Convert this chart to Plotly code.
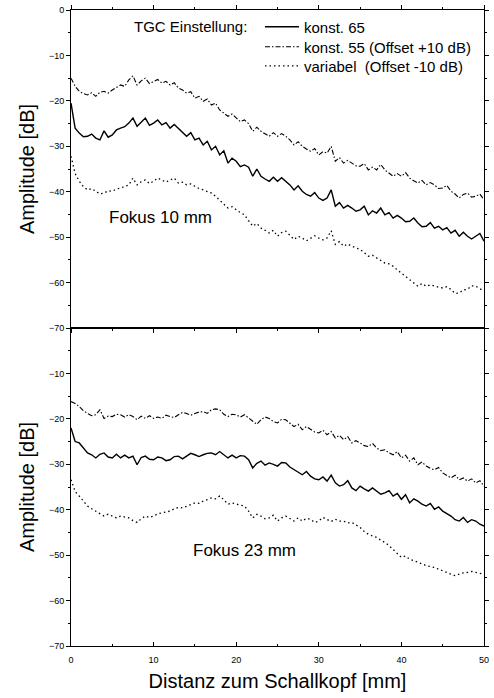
import numpy as np
import plotly.graph_objects as go
from plotly.subplots import make_subplots

# Distance axis (mm), 0.5 mm steps
distance_mm = np.arange(0, 50.01, 0.5)

# ---- Fokus 10 mm (top panel) ----
top_konst65 = [-20.5, -26.0, -27.1, -27.9, -27.8, -27.3, -28.2, -28.6, -26.6, -28.0, -27.5, -26.4, -26.0, -25.7, -24.9, -23.8, -25.6, -24.6, -23.8, -25.4,
               -24.9, -24.2, -25.3, -24.8, -26.0, -25.2, -26.0, -26.9, -27.8, -27.0, -28.6, -28.2, -29.7, -28.9, -30.8, -30.0, -31.9, -31.0, -33.7, -32.6,
               -33.3, -34.5, -34.1, -34.6, -36.6, -35.0, -36.6, -37.2, -37.7, -36.8, -37.7, -36.9, -37.7, -38.5, -39.6, -38.7, -39.9, -40.6, -41.0, -40.2,
               -41.4, -41.9, -41.4, -39.6, -43.2, -42.4, -43.6, -43.0, -43.6, -44.3, -44.0, -43.2, -45.1, -44.2, -44.7, -43.6, -45.1, -44.6, -45.8, -45.2,
               -45.8, -46.6, -46.5, -45.8, -46.9, -47.7, -47.6, -46.8, -48.0, -47.6, -48.4, -47.9, -49.1, -48.5, -49.8, -48.9, -49.8, -50.4, -49.8, -49.2,
               -50.9]
top_konst55 = [-15.0, -16.8, -17.9, -18.4, -18.7, -18.2, -19.0, -18.1, -17.9, -18.3, -17.6, -17.0, -16.5, -16.8, -15.4, -14.5, -16.5, -15.6, -15.0, -16.2,
               -15.8, -15.3, -16.1, -15.7, -16.5, -16.0, -17.2, -17.6, -18.3, -18.0, -19.4, -19.0, -20.1, -19.6, -20.9, -20.5, -22.0, -22.8, -23.4, -22.9,
               -23.8, -24.6, -24.2, -25.0, -26.7, -25.8, -26.7, -27.2, -27.8, -27.0, -27.8, -27.2, -27.8, -28.6, -29.7, -29.0, -30.0, -30.6, -31.1, -30.5,
               -31.9, -31.2, -31.5, -30.0, -33.3, -32.5, -33.7, -33.1, -33.7, -34.3, -34.4, -33.8, -35.2, -34.6, -35.2, -34.0, -35.2, -35.9, -36.6, -36.0,
               -36.6, -35.8, -37.0, -37.6, -38.1, -37.5, -38.5, -38.0, -38.5, -39.3, -39.2, -38.6, -39.9, -40.5, -41.4, -40.6, -40.3, -41.2, -41.0, -40.5,
               -41.8]
top_variabel = [-32.2, -36.0, -37.7, -38.9, -39.6, -39.3, -39.9, -40.5, -40.3, -39.8, -39.9, -39.4, -39.2, -38.8, -38.5, -37.0, -38.5, -37.8, -37.4, -38.2,
                -37.7, -37.0, -37.4, -37.9, -37.4, -37.0, -38.1, -37.9, -38.5, -38.3, -38.8, -39.3, -39.6, -39.9, -40.3, -41.0, -41.8, -42.6, -43.6, -43.3,
                -44.0, -44.6, -45.1, -46.3, -47.6, -47.0, -48.0, -48.5, -49.1, -48.5, -49.8, -49.0, -48.7, -49.6, -50.5, -49.8, -50.2, -50.8, -50.2, -49.7,
                -50.2, -50.6, -50.2, -48.6, -51.6, -51.0, -52.0, -51.5, -52.0, -52.3, -52.7, -53.4, -54.2, -54.0, -54.6, -55.2, -55.7, -55.9, -56.4, -57.2,
                -57.9, -58.7, -59.3, -60.1, -60.8, -60.2, -60.8, -60.5, -60.8, -61.0, -61.2, -60.9, -61.5, -62.4, -62.3, -61.6, -61.5, -60.7, -60.8, -61.3,
                -61.9]

# ---- Fokus 23 mm (bottom panel) ----
bot_konst65 = [-22.0, -25.0, -25.3, -26.4, -27.5, -27.9, -28.6, -27.8, -27.5, -28.4, -28.6, -27.8, -28.6, -28.0, -28.6, -28.2, -30.1, -28.5, -28.2, -28.9,
               -29.0, -28.4, -28.6, -29.2, -29.0, -28.3, -28.2, -28.8, -28.2, -27.6, -27.9, -28.3, -27.9, -27.6, -27.5, -27.9, -27.2, -28.0, -28.6, -28.0,
               -28.6, -28.1, -28.2, -29.0, -30.8, -29.8, -29.3, -30.2, -29.7, -30.0, -30.4, -29.6, -29.7, -30.6, -31.2, -31.8, -32.3, -31.6, -32.6, -33.2,
               -33.4, -32.8, -33.7, -32.4, -34.1, -34.8, -34.5, -33.6, -35.2, -35.8, -34.8, -35.4, -35.9, -35.2, -35.9, -36.6, -36.3, -35.8, -37.0, -36.4,
               -37.7, -36.7, -38.5, -37.6, -38.1, -38.8, -39.2, -38.6, -39.9, -39.4, -40.3, -40.8, -41.4, -42.2, -42.5, -41.7, -42.8, -42.2, -42.5, -43.2,
               -43.6]
bot_konst55 = [-16.2, -16.6, -17.3, -18.2, -18.8, -19.3, -19.1, -18.0, -19.9, -19.4, -19.5, -19.0, -19.1, -19.6, -19.1, -19.5, -20.2, -19.4, -19.9, -19.3,
               -19.9, -19.6, -19.9, -19.2, -19.5, -19.7, -19.1, -18.6, -18.8, -19.2, -18.8, -18.5, -18.4, -18.8, -18.0, -17.8, -18.0, -19.0, -19.5, -19.0,
               -19.1, -19.6, -19.1, -19.8, -20.6, -21.2, -20.2, -19.6, -19.9, -20.6, -20.9, -20.1, -20.2, -21.0, -21.7, -21.2, -22.4, -21.7, -22.4, -22.9,
               -23.1, -22.5, -23.5, -22.8, -24.2, -23.6, -24.6, -23.9, -25.3, -24.8, -25.3, -25.9, -26.1, -25.4, -26.4, -27.0, -26.8, -27.5, -27.9, -27.2,
               -28.6, -28.0, -29.3, -28.6, -30.1, -29.5, -30.4, -30.9, -31.2, -30.7, -31.9, -32.5, -33.0, -32.4, -33.4, -33.0, -33.7, -33.2, -34.1, -33.6,
               -34.8]
bot_variabel = [-33.4, -36.0, -37.0, -38.2, -39.2, -39.8, -40.3, -40.9, -41.4, -41.0, -41.4, -41.8, -41.4, -41.6, -41.8, -42.4, -42.8, -42.0, -41.4, -41.7,
                -41.4, -40.9, -40.7, -40.5, -40.3, -39.8, -39.5, -39.6, -39.2, -38.8, -38.5, -38.6, -38.1, -37.8, -37.4, -37.6, -37.0, -37.8, -38.8, -38.5,
                -38.8, -39.0, -39.2, -40.3, -41.8, -41.0, -41.4, -42.0, -41.8, -41.2, -42.5, -41.8, -41.4, -42.0, -42.5, -41.8, -42.5, -41.9, -42.1, -42.8,
                -42.5, -41.7, -42.1, -42.6, -42.1, -42.5, -42.5, -42.9, -42.8, -43.3, -43.9, -44.8, -45.4, -45.8, -46.1, -46.7, -47.2, -47.9, -48.7, -49.6,
                -50.5, -50.2, -50.9, -51.2, -51.6, -51.9, -52.3, -52.5, -52.7, -53.1, -53.4, -53.8, -54.2, -54.5, -54.2, -53.9, -53.8, -53.6, -53.8, -54.0,
                -54.2]

series_names = ["konst. 65", "konst. 55 (Offset +10 dB)", "variabel  (Offset -10 dB)"]
legend_title = "TGC Einstellung:"
panel_labels = ["Fokus 10 mm", "Fokus 23 mm"]
y_ticks = [0, -10, -20, -30, -40, -50, -60, -70]
x_ticks = [0, 10, 20, 30, 40, 50]

FONT = "Liberation Sans, Arial, sans-serif"
dashes = ["solid", "5px,2px,1.5px,2px", "1.5px,3px"]
widths = [1.4, 1.1, 1.3]
legend_ids = ["legend", "legend2", "legend3"]
legend_y = [0.9733, 0.9418, 0.9119]

fig = make_subplots(rows=2, cols=1, shared_xaxes=True, vertical_spacing=0)

panels = [(top_konst65, top_konst55, top_variabel), (bot_konst65, bot_konst55, bot_variabel)]
for r, data in enumerate(panels, start=1):
    for i, (vals, name) in enumerate(zip(data, series_names)):
        fig.add_trace(go.Scatter(
            x=distance_mm, y=vals, mode="lines", name=name,
            line=dict(color="black", width=widths[i], dash=dashes[i]),
            showlegend=(r == 1), legend=legend_ids[i],
        ), row=r, col=1)

axis_common = dict(showline=True, linecolor="black", linewidth=1, mirror="ticks",
                   ticklen=4, tickcolor="black", tickwidth=1,
                   showgrid=False, zeroline=False, automargin=False, ticklabeloverflow="allow",
                   tickfont=dict(size=9, family=FONT, color="black"))

for r in (1, 2):
    fig.update_yaxes(range=[-70, 0], tickvals=(y_ticks if r == 1 else y_ticks[1:]), ticks="outside",
                     minor=dict(dtick=5, ticklen=2, ticks="outside", tickcolor="black", showgrid=False),
                     title=dict(text="Amplitude [dB]", font=dict(size=20, family=FONT, color="black"), standoff=8),
                     row=r, col=1, **axis_common)
    xt = "outside" if r == 1 else "inside"
    fig.update_xaxes(range=[0, 50], tickvals=x_ticks, showticklabels=(r == 2), ticks=xt,
                     minor=dict(dtick=5, ticklen=2, ticks=xt, tickcolor="black", showgrid=False),
                     row=r, col=1, **axis_common)

fig.update_xaxes(title=dict(text="Distanz zum Schallkopf [mm]", font=dict(size=20, family=FONT, color="black"), standoff=10),
                 ticklabelstandoff=5, row=2, col=1)

fig.add_annotation(x=10.8, y=-45.7, xref="x", yref="y", text=panel_labels[0], showarrow=False,
                   font=dict(size=17, family=FONT, color="black"))
fig.add_annotation(x=21, y=-48.9, xref="x2", yref="y2", text=panel_labels[1], showarrow=False,
                   font=dict(size=17, family=FONT, color="black"))
fig.add_annotation(x=0.1477, y=legend_y[0], xref="paper", yref="paper", xanchor="left", yanchor="middle",
                   text=legend_title, showarrow=False, font=dict(size=15, family=FONT, color="black"))

legend_common = dict(xanchor="left", yanchor="middle", bgcolor="rgba(0,0,0,0)", borderwidth=0,
                     font=dict(size=15, family=FONT, color="black"), itemwidth=34)
fig.update_layout(
    width=494, height=698,
    margin=dict(l=71, r=10, t=10, b=52, autoexpand=False),
    paper_bgcolor="white", plot_bgcolor="white",
    font=dict(family=FONT, color="black"),
    legend=dict(x=0.4576, y=legend_y[0], **legend_common),
    legend2=dict(x=0.4576, y=legend_y[1], **legend_common),
    legend3=dict(x=0.4576, y=legend_y[2], **legend_common),
)

# remove the browser's default 8px body margin so the figure sits at the window's top-left corner
fig.write_html("out.html", config={"displayModeBar": False},
               post_script="document.body.style.margin='0';")
